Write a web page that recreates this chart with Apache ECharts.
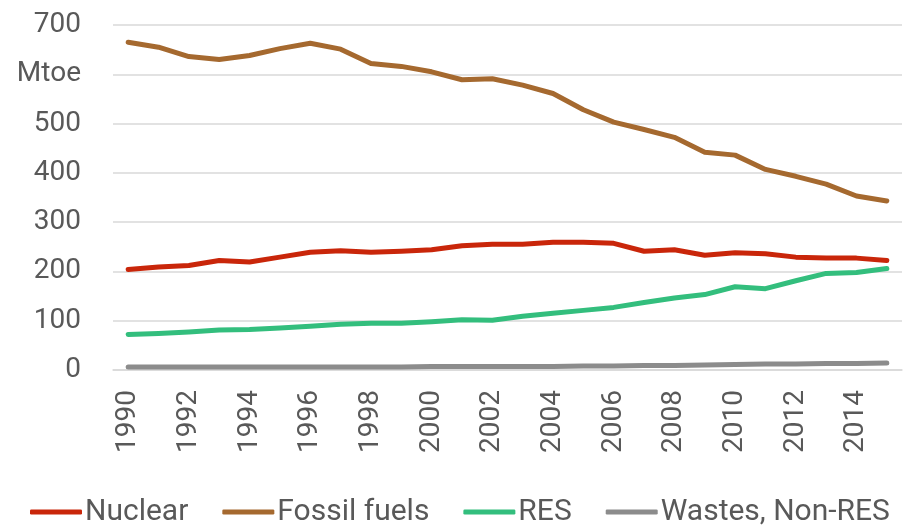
<!DOCTYPE html>
<html>
<head>
<meta charset="utf-8">
<script src="https://cdn.jsdelivr.net/npm/echarts@6/dist/echarts.min.js"></script>
<style>
  html, body { margin: 0; padding: 0; background: #fff; }
  #main { width: 904px; height: 525px; }
</style>
</head>
<body>
<div id="main"></div>
<script>
// 数据
var years = [];
for (var y = 1990; y <= 2015; y++) years.push(String(y));

var nuclear = [204, 209, 212, 222, 219, 229, 239, 242, 239, 241, 244, 252, 255,
               255, 259, 259, 257, 241, 244, 233, 238, 236, 229, 227, 227, 222];
var fossil = [665, 655, 636, 630, 638, 652, 663, 651, 622, 616, 605, 589, 591,
              578, 561, 528, 503, 488, 472, 442, 436, 407, 393, 377, 353, 343];
var res = [72, 74, 77, 81, 82, 85, 89, 93, 95, 95, 98, 102, 101,
           109, 115, 121, 127, 137, 146, 153, 169, 165, 181, 196, 198, 206];
var wastes = [6, 6, 6, 6, 6, 6, 6, 6, 6, 6, 7, 7, 7,
              7, 7, 8, 8, 9, 9, 10, 11, 12, 12, 13, 13, 14];

var chart = echarts.init(document.getElementById('main'));

function lineSeries(name, data, color) {
    return {
        name: name,
        type: 'line',
        data: data,
        symbol: 'none',
        smooth: false,
        lineStyle: { color: color, width: 5, cap: 'round', join: 'round' },
        itemStyle: { color: color }
    };
}

var option = {
    backgroundColor: '#fff',
    textStyle: { fontFamily: 'Roboto' },
    animation: false,
    grid: { left: 113, right: 2, top: 25, bottom: 155, containLabel: false },
    legend: {
        top: 497,
        left: 30,
        width: 874,
        padding: 0,
        itemWidth: 52,
        itemHeight: 5,
        itemGap: 34,
        icon: 'roundRect',
        textStyle: { fontSize: 30, color: '#595959', fontFamily: 'Roboto', padding: [0, 0, 0, -2] },
        data: ['Nuclear', 'Fossil fuels', 'RES', 'Wastes, Non-RES']
    },
    xAxis: {
        type: 'category',
        data: years,
        boundaryGap: true,
        axisLine: { lineStyle: { color: '#d9d9d9', width: 1.5 } },
        axisTick: { show: false },
        axisLabel: {
            rotate: 90,
            interval: 1,
            margin: 20,
            fontSize: 28,
            color: '#595959'
        }
    },
    yAxis: {
        type: 'value',
        min: 0,
        max: 700,
        interval: 100,
        axisLine: { show: false },
        axisTick: { show: false },
        splitLine: { lineStyle: { color: '#d9d9d9', width: 1.5 } },
        axisLabel: {
            margin: 32,
            fontSize: 28,
            color: '#595959',
            formatter: function (v) { return v === 600 ? 'Mtoe' : v; }
        }
    },
    series: [
        lineSeries('Nuclear', nuclear, '#C9260A'),
        lineSeries('Fossil fuels', fossil, '#A5692F'),
        lineSeries('RES', res, '#33BE7D'),
        lineSeries('Wastes, Non-RES', wastes, '#8C8C8C')
    ]
};

chart.setOption(option);
</script>
</body>
</html>
